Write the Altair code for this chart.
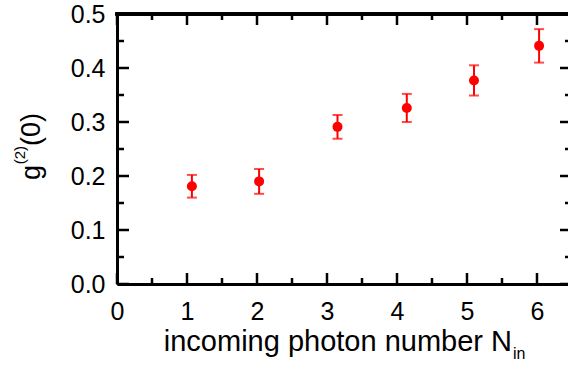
import altair as alt
import pandas as pd

# data
n_in = [1.07, 2.03, 3.15, 4.14, 5.10, 6.03]
g2 = [0.181, 0.190, 0.291, 0.326, 0.377, 0.441]
g2_err = [0.021, 0.023, 0.022, 0.026, 0.028, 0.031]

x_labels = [0, 1, 2, 3, 4, 5, 6]
x_minor = [0.5, 1.5, 2.5, 3.5, 4.5, 5.5]
y_labels = [0.0, 0.1, 0.2, 0.3, 0.4, 0.5]
y_minor = [0.05, 0.15, 0.25, 0.35, 0.45]

FONT = "Liberation Sans"
W, H = 451, 270
RED = "#ff0000"

df = pd.DataFrame({
    "n": n_in,
    "g": g2,
    "lo": [v - e for v, e in zip(g2, g2_err)],
    "hi": [v + e for v, e in zip(g2, g2_err)],
})

xs = alt.Scale(domain=[0, 6.443], nice=False, zero=False)
ys = alt.Scale(domain=[0, 0.5], nice=False, zero=False)

xaxis = alt.Axis(values=x_labels, format="d", title=None, ticks=False, tickSize=0,
                 grid=False, domain=True, domainColor="black", domainWidth=3,
                 labelFont=FONT, labelFontSize=25, labelColor="black",
                 labelPadding=15, labelFlush=False)
yaxis = alt.Axis(values=y_labels, format=".1f", title=None, ticks=False, tickSize=0,
                 grid=False, domain=True, domainColor="black", domainWidth=3,
                 labelFont=FONT, labelFontSize=25, labelColor="black",
                 labelPadding=12, labelFlush=False)

base = alt.Chart(df)

bars = base.mark_rule(color=RED, strokeWidth=2).encode(
    x=alt.X("n:Q", scale=xs, axis=xaxis),
    y=alt.Y("lo:Q", scale=ys, axis=yaxis),
    y2="hi:Q",
)
cap_lo = base.mark_tick(color=RED, orient="horizontal", size=10, thickness=2).encode(
    x=alt.X("n:Q", scale=xs, axis=xaxis),
    y=alt.Y("lo:Q", scale=ys, axis=yaxis),
)
cap_hi = base.mark_tick(color=RED, orient="horizontal", size=10, thickness=2).encode(
    x=alt.X("n:Q", scale=xs, axis=xaxis),
    y=alt.Y("hi:Q", scale=ys, axis=yaxis),
)
points = base.mark_circle(color=RED, opacity=1, size=100).encode(
    x=alt.X("n:Q", scale=xs, axis=xaxis),
    y=alt.Y("g:Q", scale=ys, axis=yaxis),
)

def yticks(vals, x0, x1):
    return alt.Chart(pd.DataFrame({"v": vals})).mark_rule(color="black", strokeWidth=2.5).encode(
        y=alt.Y("v:Q", scale=ys, axis=yaxis), x=alt.value(x0), x2=alt.value(x1))

def xticks(vals, y0, y1):
    return alt.Chart(pd.DataFrame({"v": vals})).mark_rule(color="black", strokeWidth=2.5).encode(
        x=alt.X("v:Q", scale=xs, axis=xaxis), y=alt.value(y0), y2=alt.value(y1))

ticks = [
    yticks(y_labels, 0, 12), yticks(y_minor, 0, 7),
    yticks(y_labels, W - 8, W), yticks(y_minor, W - 3, W),
    xticks(x_labels, H, H - 11), xticks(x_minor, H, H - 6),
    xticks(x_labels, 0, 11), xticks(x_minor, 0, 6),
]

top_line = alt.Chart(df).mark_rule(color="black", strokeWidth=3).encode(
    x=alt.value(-1.5), x2=alt.value(W + 2), y=alt.value(0))

def label(text, x, y, size, align="left", angle=0):
    return alt.Chart(pd.DataFrame({"t": [text]})).mark_text(
        font=FONT, fontSize=size, color="black", align=align, baseline="alphabetic",
        angle=angle
    ).encode(text="t:N", x=alt.value(x), y=alt.value(y))

titles = [
    label("incoming photon number N", 395, 337, 29, align="right"),
    label("in", 396, 345, 16, align="left"),
    label("(0)", -77, 132, 27, align="left", angle=270),
    label("(2)", -92, 132, 15, align="right", angle=270),
    label("g", -77, 151, 27, align="right", angle=270),
]

chart = alt.layer(bars, cap_lo, cap_hi, points, *ticks, top_line, *titles).properties(
    width=W, height=H,
    autosize=alt.AutoSizeParams(type="none"),
    padding={"left": 117, "top": 14, "right": 0, "bottom": 83},
).configure_view(stroke=None).configure(background="white")

chart.save("out.html", embed_options={"renderer": "svg", "actions": False})
